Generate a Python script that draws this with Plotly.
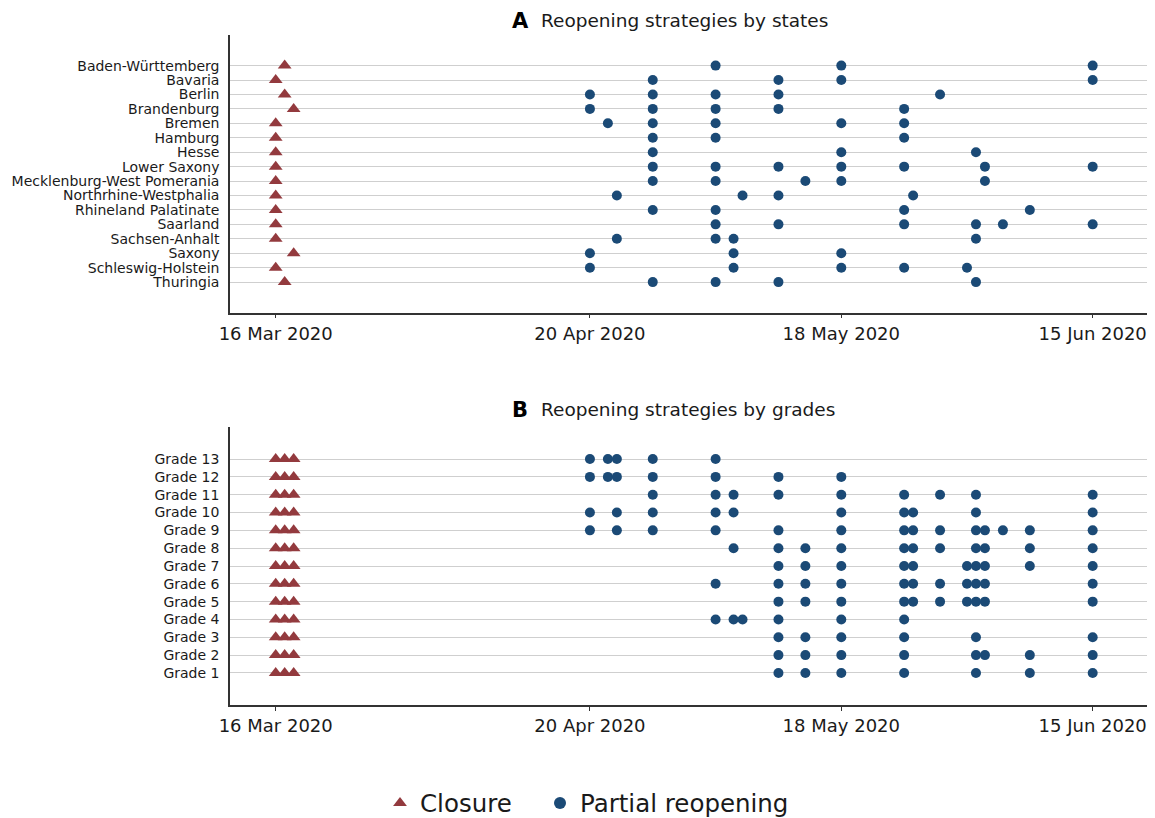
import plotly.graph_objects as go

# ---------------- data ----------------
states = ["Baden-Württemberg", "Bavaria", "Berlin", "Brandenburg", "Bremen", "Hamburg",
          "Hesse", "Lower Saxony", "Mecklenburg-West Pomerania", "Northrhine-Westphalia",
          "Rhineland Palatinate", "Saarland", "Sachsen-Anhalt", "Saxony",
          "Schleswig-Holstein", "Thuringia"]

state_closure = ["2020-03-17", "2020-03-16", "2020-03-17", "2020-03-18", "2020-03-16",
                 "2020-03-16", "2020-03-16", "2020-03-16", "2020-03-16", "2020-03-16",
                 "2020-03-16", "2020-03-16", "2020-03-16", "2020-03-18", "2020-03-16",
                 "2020-03-17"]

state_reopen = [
    ["2020-05-04", "2020-05-18", "2020-06-15"],
    ["2020-04-27", "2020-05-11", "2020-05-18", "2020-06-15"],
    ["2020-04-20", "2020-04-27", "2020-05-04", "2020-05-11", "2020-05-29"],
    ["2020-04-20", "2020-04-27", "2020-05-04", "2020-05-11", "2020-05-25"],
    ["2020-04-22", "2020-04-27", "2020-05-04", "2020-05-18", "2020-05-25"],
    ["2020-04-27", "2020-05-04", "2020-05-25"],
    ["2020-04-27", "2020-05-18", "2020-06-02"],
    ["2020-04-27", "2020-05-04", "2020-05-11", "2020-05-18", "2020-05-25", "2020-06-03", "2020-06-15"],
    ["2020-04-27", "2020-05-04", "2020-05-14", "2020-05-18", "2020-06-03"],
    ["2020-04-23", "2020-05-07", "2020-05-11", "2020-05-26"],
    ["2020-04-27", "2020-05-04", "2020-05-25", "2020-06-08"],
    ["2020-05-04", "2020-05-11", "2020-05-25", "2020-06-02", "2020-06-05", "2020-06-15"],
    ["2020-04-23", "2020-05-04", "2020-05-06", "2020-06-02"],
    ["2020-04-20", "2020-05-06", "2020-05-18"],
    ["2020-04-20", "2020-05-06", "2020-05-18", "2020-05-25", "2020-06-01"],
    ["2020-04-27", "2020-05-04", "2020-05-11", "2020-06-02"],
]

grades = ["Grade 13", "Grade 12", "Grade 11", "Grade 10", "Grade 9", "Grade 8", "Grade 7",
          "Grade 6", "Grade 5", "Grade 4", "Grade 3", "Grade 2", "Grade 1"]

grade_closure = ["2020-03-16", "2020-03-17", "2020-03-18"]

grade_reopen = [
    ["2020-04-20", "2020-04-22", "2020-04-23", "2020-04-27", "2020-05-04"],
    ["2020-04-20", "2020-04-22", "2020-04-23", "2020-04-27", "2020-05-04", "2020-05-11", "2020-05-18"],
    ["2020-04-27", "2020-05-04", "2020-05-06", "2020-05-11", "2020-05-18", "2020-05-25", "2020-05-29",
     "2020-06-02", "2020-06-15"],
    ["2020-04-20", "2020-04-23", "2020-04-27", "2020-05-04", "2020-05-06", "2020-05-18", "2020-05-25",
     "2020-05-26", "2020-06-02", "2020-06-15"],
    ["2020-04-20", "2020-04-23", "2020-04-27", "2020-05-04", "2020-05-11", "2020-05-18", "2020-05-25",
     "2020-05-26", "2020-05-29", "2020-06-02", "2020-06-03", "2020-06-05", "2020-06-08", "2020-06-15"],
    ["2020-05-06", "2020-05-11", "2020-05-14", "2020-05-18", "2020-05-25", "2020-05-26", "2020-05-29",
     "2020-06-02", "2020-06-03", "2020-06-08", "2020-06-15"],
    ["2020-05-11", "2020-05-14", "2020-05-18", "2020-05-25", "2020-05-26", "2020-06-01", "2020-06-02",
     "2020-06-03", "2020-06-08", "2020-06-15"],
    ["2020-05-04", "2020-05-11", "2020-05-14", "2020-05-18", "2020-05-25", "2020-05-26", "2020-05-29",
     "2020-06-01", "2020-06-02", "2020-06-03", "2020-06-15"],
    ["2020-05-11", "2020-05-14", "2020-05-18", "2020-05-25", "2020-05-26", "2020-05-29", "2020-06-01",
     "2020-06-02", "2020-06-03", "2020-06-15"],
    ["2020-05-04", "2020-05-06", "2020-05-07", "2020-05-11", "2020-05-18", "2020-05-25"],
    ["2020-05-11", "2020-05-14", "2020-05-18", "2020-05-25", "2020-06-02", "2020-06-15"],
    ["2020-05-11", "2020-05-14", "2020-05-18", "2020-05-25", "2020-06-02", "2020-06-03", "2020-06-08",
     "2020-06-15"],
    ["2020-05-11", "2020-05-14", "2020-05-18", "2020-05-25", "2020-06-02", "2020-06-08", "2020-06-15"],
]

tick_dates = ["2020-03-16", "2020-04-20", "2020-05-18", "2020-06-15"]
tick_labels = ["16 Mar 2020", "20 Apr 2020", "18 May 2020", "15 Jun 2020"]

# ---------------- style ----------------
RED = "#933a3e"
BLUE = "#1b4a76"
FONT = "DejaVu Sans"
TXT = "#1a1a1a"

# page body has an 8px margin; figure is laid out in (reference - 8) pixels
W, H = 1147, 810
L, T, B = 222, 27, 113

fig = go.Figure()

xa_c, ya_c = [], []
for i, d in enumerate(state_closure):
    xa_c.append(d); ya_c.append(i)
xa_r, ya_r = [], []
for i, ds in enumerate(state_reopen):
    for d in ds:
        xa_r.append(d); ya_r.append(i)

xb_c, yb_c = [], []
xb_r, yb_r = [], []
for i in range(len(grades)):
    for d in grade_closure:
        xb_c.append(d); yb_c.append(i)
    for d in grade_reopen[i]:
        xb_r.append(d); yb_r.append(i)

fig.add_trace(go.Scatter(x=xa_c, y=ya_c, mode="markers", name="Closure",
                         marker=dict(symbol="triangle-up", size=12, color=RED),
                         xaxis="x", yaxis="y", showlegend=True, legend="legend"))
fig.add_trace(go.Scatter(x=xa_r, y=ya_r, mode="markers", name="Partial reopening",
                         marker=dict(symbol="circle", size=10, color=BLUE),
                         xaxis="x", yaxis="y", showlegend=True, legend="legend2"))
fig.add_trace(go.Scatter(x=xb_c, y=yb_c, mode="markers", name="Closure",
                         marker=dict(symbol="triangle-up", size=12, color=RED),
                         xaxis="x2", yaxis="y2", showlegend=False))
fig.add_trace(go.Scatter(x=xb_r, y=yb_r, mode="markers", name="Partial reopening",
                         marker=dict(symbol="circle", size=10, color=BLUE),
                         xaxis="x2", yaxis="y2", showlegend=False))

xrange = ["2020-03-10 21:50", "2020-06-21 22:35"]
xcommon = dict(type="date", range=xrange, tickvals=tick_dates, ticktext=tick_labels,
               showgrid=False, zeroline=False, showline=True, linecolor="#333333",
               linewidth=1.5, ticks="outside", ticklen=4, tickcolor="#333333", tickwidth=1,
               tickfont=dict(family=FONT, size=18, color=TXT))
ycommon = dict(showgrid=True, gridcolor="#cfcfcf", gridwidth=1.4, zeroline=False,
               showline=True, linecolor="#333333", linewidth=1.5, ticks="",
               ticklabelstandoff=6, tickfont=dict(family=FONT, size=14, color=TXT))

legend_font = dict(family=FONT, size=24.5, color=TXT)
padA = 2.12
padB = 1.8
fig.update_layout(
    width=W, height=H,
    margin=dict(l=L, r=0, t=T, b=B),
    paper_bgcolor="white", plot_bgcolor="white",
    xaxis=dict(domain=[0, 1], anchor="y", **xcommon),
    yaxis=dict(domain=[(705 - 312.7) / 670, 1], anchor="x", tickvals=list(range(len(states))),
               ticktext=states, range=[len(states) - 1 + padA, -padA], **ycommon),
    xaxis2=dict(domain=[0, 1], anchor="y2", **xcommon),
    yaxis2=dict(domain=[0, (705 - 427) / 670], anchor="x2", tickvals=list(range(len(grades))),
                ticktext=grades, range=[len(grades) - 1 + padB, -padB], **ycommon),
    legend=dict(orientation="h", xref="container", yref="container",
                x=372 / W, xanchor="left", y=(H - 795) / H, yanchor="middle",
                font=legend_font, itemsizing="constant"),
    legend2=dict(orientation="h", xref="container", yref="container",
                 x=532 / W, xanchor="left", y=(H - 795) / H, yanchor="middle",
                 font=legend_font, itemsizing="constant"),
    font=dict(family=FONT, color=TXT),
)

def title(letter, text, ypix_ref):
    yp = (705 - ypix_ref) / 670
    fig.add_annotation(x=(510 - 230) / 925, y=yp, xref="paper", yref="paper",
                       text="<b>" + letter + "</b>", showarrow=False, xanchor="left",
                       yanchor="middle", font=dict(family=FONT, size=21, color="#000000"))
    fig.add_annotation(x=(539 - 230) / 925, y=yp, xref="paper", yref="paper",
                       text=text, showarrow=False, xanchor="left", yanchor="middle",
                       font=dict(family=FONT, size=18.5, color=TXT))

title("A", "Reopening strategies by states", 21)
title("B", "Reopening strategies by grades", 410)

fig.write_html("out.html")
